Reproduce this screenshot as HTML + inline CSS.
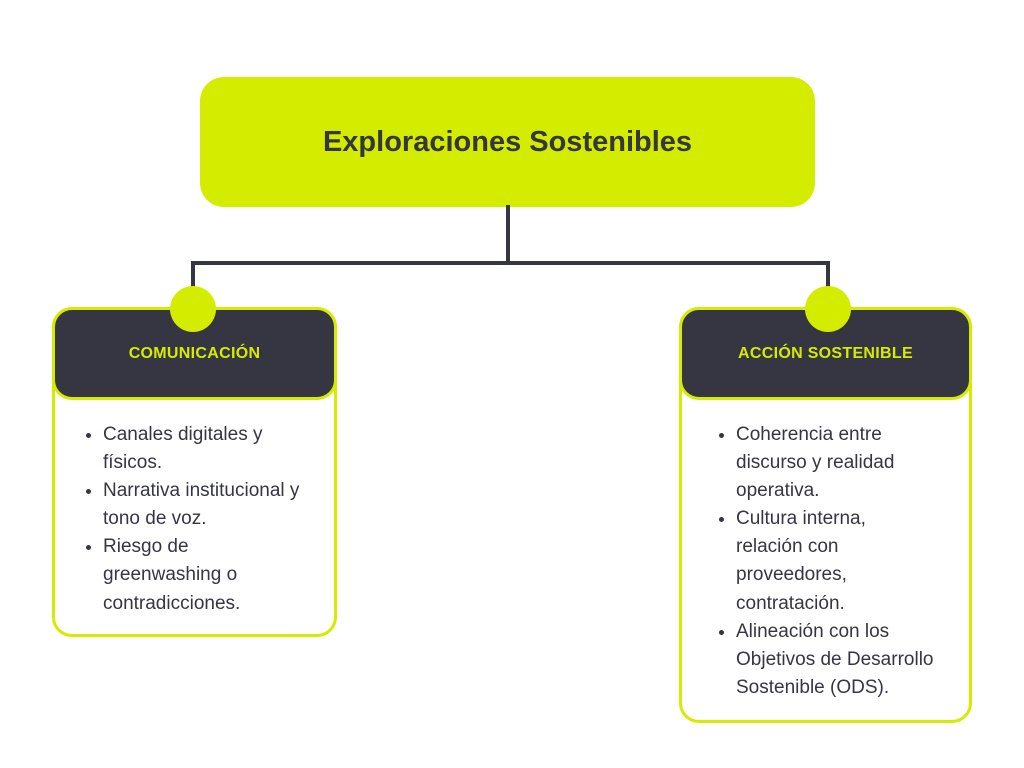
<!DOCTYPE html>
<html><head><meta charset="utf-8"><style>
body{margin:0;width:1024px;height:768px;background:#fff;position:relative;font-family:"Liberation Sans",sans-serif;overflow:hidden}
.a{position:absolute}
.title{left:200px;top:77px;width:615px;height:130px;background:#d4ec00;border-radius:24px;display:flex;align-items:center;justify-content:center;font-weight:bold;font-size:29px;color:#363642}
.box{border:3px solid #d4ec00;border-radius:20px;background:#fff;box-sizing:border-box}
.hd{background:#363642;border:3px solid #d4ec00;border-radius:20px;box-sizing:border-box;display:flex;align-items:center;justify-content:center;color:#d4ec00;font-weight:bold;font-size:16px;letter-spacing:0.3px}
.c{width:46px;height:46px;border-radius:50%;background:#d4ec00}
ul{margin:0;padding-left:20px;font-size:19px;line-height:28.1px;color:#363642}
li{padding-left:0}
</style></head><body>
<div class="a title">Exploraciones Sostenibles</div>
<div class="a" style="left:506px;top:205px;width:4px;height:60px;background:#363642"></div>
<div class="a" style="left:191px;top:261px;width:639px;height:4px;background:#363642"></div>
<div class="a" style="left:191px;top:261px;width:4px;height:30px;background:#363642"></div>
<div class="a" style="left:826px;top:261px;width:4px;height:30px;background:#363642"></div>

<div class="a box" style="left:52px;top:307px;width:285px;height:330px"></div>
<div class="a hd" style="left:52px;top:307px;width:285px;height:93px">COMUNICACIÓN</div>
<div class="a c" style="left:170px;top:286px"></div>
<div class="a" style="left:83px;top:421px;width:221px"><ul>
<li>Canales digitales y físicos.</li><li>Narrativa institucional y tono de voz.</li><li>Riesgo de greenwashing o contradicciones.</li></ul></div>

<div class="a box" style="left:679px;top:307px;width:293px;height:416px"></div>
<div class="a hd" style="left:679px;top:307px;width:293px;height:93px">ACCIÓN SOSTENIBLE</div>
<div class="a c" style="left:805px;top:286px"></div>
<div class="a" style="left:716px;top:421px;width:221px"><ul>
<li>Coherencia entre discurso y realidad operativa.</li><li>Cultura interna, relación con proveedores, contratación.</li><li>Alineación con los Objetivos de Desarrollo Sostenible (ODS).</li></ul></div>
</body></html>
